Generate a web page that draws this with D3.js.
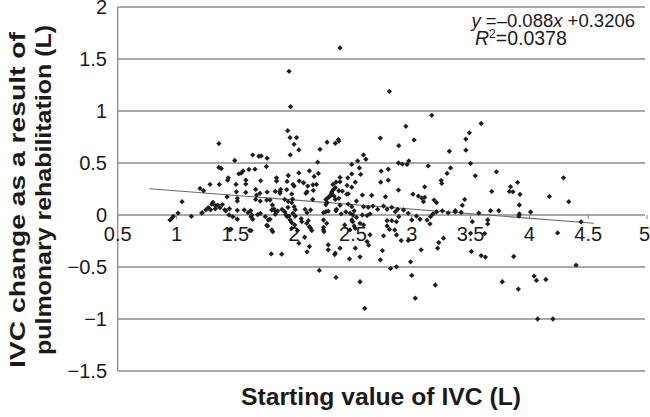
<!DOCTYPE html>
<html>
<head>
<meta charset="utf-8">
<script src="https://cdn.jsdelivr.net/npm/d3@7"></script>
<style>
  html, body { margin: 0; padding: 0; background: #fff; }
  svg { display: block; }
  text { font-family: "Liberation Sans", Arial, sans-serif; fill: #1a1a1a; }
</style>
</head>
<body>
<svg id="chart" width="650" height="417"></svg>
<script>
// ---- data ----
const xTicks = [0.5, 1, 1.5, 2, 2.5, 3, 3.5, 4, 4.5, 5];
const yTicks = [-1.5, -1, -0.5, 0, 0.5, 1, 1.5, 2];
const trendSlope = -0.088;
const trendIntercept = 0.3206;
const trendRange = [0.77, 4.55];
const xTitle = "Starting value of IVC (L)";
const yTitleLines = ["IVC change as a result of", "pulmonary rehabilitation (L)"];

// [starting IVC (L), IVC change (L)]
const scatterPoints = [
  [2.39,1.606],[1.957,1.382],[2.81,1.188],[1.97,1.041],[3.17,0.958],[1.945,0.811],[2.95,0.853],
  [1.965,0.744],[2.02,0.744],[2.376,0.725],[2.733,0.74],[3.02,0.722],[3.59,0.88],[3.49,0.79],[3.46,0.73],
  [2.0,0.68],[2.04,0.626],[1.967,0.578],[2.28,0.70],[2.35,0.69],[2.38,0.71],[2.22,0.632],[2.89,0.667],
  [3.32,0.613],[3.46,0.623],
  [3.50,0.495],[3.33,0.453],[3.54,0.377],[3.72,0.415],[4.29,0.357],[3.90,0.313],[3.84,0.271],[3.83,0.227],
  [3.86,0.223],[3.92,0.198],[3.68,0.227],[4.17,0.179],[4.335,0.128],[3.45,0.15],[3.43,0.093],[3.915,0.096],
  [3.37,0.041],[3.57,0.019],[3.67,0.041],[3.74,0.041],[4.01,0.029],[3.915,0.01],[3.91,-0.01],[3.515,-0.064],
  [3.646,-0.048],[3.646,-0.086],[3.62,-0.179],[3.50,-0.176],[4.44,-0.067],[4.24,-0.172],[3.507,-0.351],
  [3.59,-0.39],[3.626,-0.405],[3.867,-0.399],[4.397,-0.482],[3.77,-0.642],[3.906,-0.712],[4.04,-0.587],
  [4.06,-0.629],[4.14,-0.62],[4.07,-1.0],[4.20,-1.0],
  [1.806,-0.374],[1.894,-0.377],[2.04,-0.271],[2.13,-0.303],[2.11,-0.354],[2.29,-0.287],[2.29,-0.335],
  [2.39,-0.319],[2.345,-0.38],[2.214,-0.533],[2.356,-0.60],[2.47,-0.421],[2.52,-0.319],[2.56,-0.402],
  [2.62,-0.256],[2.634,-0.29],[2.56,-0.642],[2.60,-0.897],[2.75,-0.342],[2.733,-0.431],[2.82,-0.514],
  [2.87,-0.498],[2.91,-0.246],[2.97,-0.246],[2.99,-0.45],[3.0,-0.581],[3.03,-0.80],[3.08,-0.335],
  [3.20,-0.673],[3.22,-0.319],[3.23,-0.265],[2.09,-0.214],[2.027,-0.15],[3.27,-0.223],[2.645,-0.19],
  [2.76,-0.2],[2.87,-0.192],[2.855,-0.144],[2.35,-0.367],
  [1.36,0.687],[1.495,0.524],[1.648,0.578],[1.70,0.565],[1.77,0.546],[1.72,0.568],[1.764,0.466],
  [2.20,0.508],[1.36,0.457],[1.38,0.447],[1.566,0.424],[1.549,0.402],[1.53,0.396],[1.616,0.438],
  [1.667,0.441],[2.04,0.405],[2.13,0.424],[2.17,0.371],[2.206,0.40],[1.85,0.357],[1.85,0.326],[1.95,0.38],
  [1.44,0.357],[1.716,0.329],[1.94,0.323],[2.044,0.326],[2.08,0.31],[2.0,0.278],[2.116,0.278],[2.16,0.29],
  [2.19,0.294],[1.285,0.294],[1.364,0.294],[1.20,0.256],[1.23,0.233],[1.589,0.297],[1.589,0.217],
  [1.673,0.246],[1.77,0.22],[1.71,0.208],[1.84,0.227],[1.88,0.227],[1.937,0.243],[2.10,0.208],[2.11,0.223],
  [2.33,0.294],[2.35,0.262],[2.33,0.24],[2.41,0.23],[2.456,0.357],[2.49,0.395],[2.447,0.20],[2.49,0.268],
  [2.52,0.316],[1.047,0.128],[1.31,0.122],[1.30,0.105],
  [1.33,0.09],[1.35,0.095],[1.27,0.07],[1.25,0.05],[1.29,0.05],[1.33,0.06],[1.37,0.07],[1.41,0.05],
  [1.45,0.06],[1.39,0.1],[1.22,0.022],
  [1.517,0.16],[1.517,0.134],[1.43,0.175],[1.42,0.041],[1.214,0.019],[1.126,-0.013],[1.013,0.019],
  [0.973,-0.013],[0.96,-0.032],[0.945,-0.048],[1.517,0.045],[1.517,-0.041],[1.576,0.048],[1.608,0.022],
  [1.631,0.041],[1.633,-0.016],[1.62,-0.147],[1.447,0.0],[1.478,-0.016],[1.463,-0.137],[1.673,0.15],
  [1.712,0.134],[1.767,0.144],[1.795,0.144],[1.815,0.096],[1.83,0.057],[1.84,0.035],[1.755,-0.016],
  [1.795,-0.041],[1.69,0.003],[1.713,0.016],[1.86,0.038],[1.897,0.054],[1.92,0.032],[1.93,0.003],
  [1.88,0.208],[1.92,0.15],[1.95,0.128],[1.98,0.118],[2.0,0.08],[1.99,0.016],[2.01,-0.01],[1.767,-0.099],
  [1.78,-0.048],[1.81,-0.144],[1.818,-0.16],[1.94,-0.016],[1.965,-0.048],[1.98,-0.074],[2.005,-0.096],
  [1.98,-0.128],[2.065,-0.064],[2.107,-0.08],[2.14,-0.128],[2.15,-0.15],[2.25,-0.048],[2.25,-0.118],
  [2.25,-0.144],
  [2.27,0.15],[2.29,0.17],[2.31,0.19],[2.32,0.21],[2.28,0.12],[2.27,0.1],[2.29,0.038],[2.27,0.032],
  [2.25,0.022],[2.43,-0.096],[2.475,-0.144],[2.497,-0.064],[2.52,-0.128],[2.40,0.01],[2.44,0.03],
  [2.50,0.0],[2.51,0.04],[2.35,0.15],[2.38,0.16],
  [1.435,0.335],[1.59,0.335],[1.506,0.294],[1.509,0.223],[1.681,0.192],[1.64,0.0],[1.648,-0.041],
  [1.775,-0.105],[1.45,-0.144],[1.634,-0.15],
  [1.99,0.294],[1.886,0.246],[1.98,0.201],[1.987,0.153],[2.158,0.15],[2.163,0.237],[1.948,0.074],
  [2.01,0.051],[1.957,-0.01],[1.84,0.007],[1.81,0.048],[2.093,0.055],[2.11,0.022],[2.14,0.048],
  [2.06,-0.035],[2.12,-0.055],[2.13,-0.112],[2.277,-0.08],[2.254,-0.16],
  [2.356,0.316],[2.39,0.319],[2.32,0.22],[2.30,0.175],[2.34,0.182],[2.38,0.233],[2.356,0.041],[2.39,0.361],
  [2.49,0.486],[2.54,0.52],[2.59,0.578],[2.61,0.536],[2.555,0.453],[2.566,0.39],[2.45,0.284],[2.46,0.204],
  [2.53,0.134],[2.49,0.08],[2.46,0.105],[2.39,0.093],[2.36,0.055],[2.58,0.192],[2.59,0.08],[2.63,0.074],
  [2.67,0.086],[2.71,0.055],[2.475,0.016],[2.53,-0.022],[2.49,-0.048],[2.51,-0.105],[2.56,-0.08],
  [2.59,-0.096],[2.58,0.0],[2.62,-0.006],[2.645,0.01],
  [2.887,0.50],[2.92,0.49],[2.96,0.486],[2.975,0.52],[2.74,0.421],[2.80,0.44],[2.736,0.316],[2.80,0.335],
  [2.887,0.24],[2.66,0.189],[2.776,0.175],[3.01,0.2],[3.056,0.182],[3.085,0.163],[3.11,0.17],[3.10,0.128],
  [3.11,0.271],[3.14,0.472],[3.19,0.144],[3.21,0.118],[3.25,0.332],[3.255,0.304],[3.30,0.40],
  [2.76,0.086],[2.79,0.055],[2.83,0.074],[2.88,0.055],[2.93,0.048],[2.86,0.032],[2.89,-0.016],
  [2.79,-0.055],[2.83,-0.055],[2.87,-0.064],[2.79,-0.105],[2.81,-0.137],[2.97,0.016],[3.04,-0.01],
  [3.0,-0.048],[3.07,-0.041],[3.13,-0.048],[3.16,-0.016],[3.18,0.01],[3.155,-0.086],[3.21,0.03],
  [3.26,0.04],[3.31,0.02],[3.37,0.03],[3.42,0.025]
];

// ---- layout ----
const svg = d3.select("#chart");
const x = d3.scaleLinear().domain([0.5, 5]).range([117.7, 647]);
const y = d3.scaleLinear().domain([-1.5, 2]).range([371, 7]);
const gridColor = "#8c8c8c";
const fmt = v => (v < 0 ? "\u2212" : "") + String(Math.abs(v));

// horizontal gridlines
svg.append("g").selectAll("line").data(yTicks).join("line")
  .attr("x1", x(0.5)).attr("x2", 645)
  .attr("y1", d => y(d)).attr("y2", d => y(d))
  .attr("stroke", gridColor).attr("stroke-width", 1.3);

// y axis line
svg.append("line")
  .attr("x1", x(0.5)).attr("x2", x(0.5))
  .attr("y1", y(2)).attr("y2", y(-1.5))
  .attr("stroke", gridColor).attr("stroke-width", 1.3);

// x axis (at y = 0) tick marks
svg.append("g").selectAll("line").data(xTicks).join("line")
  .attr("x1", d => x(d)).attr("x2", d => x(d))
  .attr("y1", y(0)).attr("y2", y(0) + 4)
  .attr("stroke", gridColor).attr("stroke-width", 1.1);

// y tick labels
svg.append("g").selectAll("text").data(yTicks).join("text")
  .attr("x", 107).attr("y", d => y(d) + 7)
  .attr("text-anchor", "end").attr("font-size", 20)
  .text(fmt);

// x tick labels
svg.append("g").selectAll("text").data(xTicks).join("text")
  .attr("x", d => d === 5 ? 650 : x(d)).attr("y", y(0) + 25.5)
  .attr("text-anchor", d => d === 5 ? "end" : "middle").attr("font-size", 20)
  .text(fmt);

// trend line
svg.append("line")
  .attr("x1", x(trendRange[0])).attr("y1", y(trendSlope * trendRange[0] + trendIntercept))
  .attr("x2", x(trendRange[1])).attr("y2", y(trendSlope * trendRange[1] + trendIntercept))
  .attr("stroke", "#6a6a6a").attr("stroke-width", 1.1);

// points (small diamonds)
const diamond = d3.symbol().type(d3.symbolSquare).size(14);
svg.append("g").selectAll("path").data(scatterPoints).join("path")
  .attr("d", diamond)
  .attr("transform", d => `translate(${x(d[0])},${y(d[1])}) rotate(45)`)
  .attr("fill", "#1e1e1e");

// equation text
const eq = svg.append("text").attr("x", 635).attr("y", 27)
  .attr("text-anchor", "end").attr("font-size", 18.5);
eq.append("tspan").attr("font-style", "italic").text("y");
eq.append("tspan").text(" =\u2013" + Math.abs(trendSlope).toFixed(3));
eq.append("tspan").attr("font-style", "italic").text("x");
eq.append("tspan").text(" +" + trendIntercept.toFixed(4));

const r2 = svg.append("text").attr("x", 475).attr("y", 45).attr("font-size", 19.5);
r2.append("tspan").attr("font-style", "italic").text("R");
r2.append("tspan").attr("font-size", 12).attr("dy", -7).text("2");
r2.append("tspan").attr("dy", 7).text("=0.0378");

// axis titles
svg.append("text").attr("x", 381).attr("y", 405)
  .attr("text-anchor", "middle").attr("font-size", 24.5).attr("font-weight", "bold")
  .attr("textLength", 280).attr("lengthAdjust", "spacingAndGlyphs")
  .text(xTitle);

svg.append("text")
  .attr("transform", "translate(25,200) rotate(-90)")
  .attr("text-anchor", "middle").attr("font-size", 22).attr("font-weight", "bold")
  .attr("textLength", 336).attr("lengthAdjust", "spacingAndGlyphs")
  .text(yTitleLines[0]);
svg.append("text")
  .attr("transform", "translate(51,190) rotate(-90)")
  .attr("text-anchor", "middle").attr("font-size", 22).attr("font-weight", "bold")
  .attr("textLength", 330).attr("lengthAdjust", "spacingAndGlyphs")
  .text(yTitleLines[1]);
</script>
</body>
</html>
